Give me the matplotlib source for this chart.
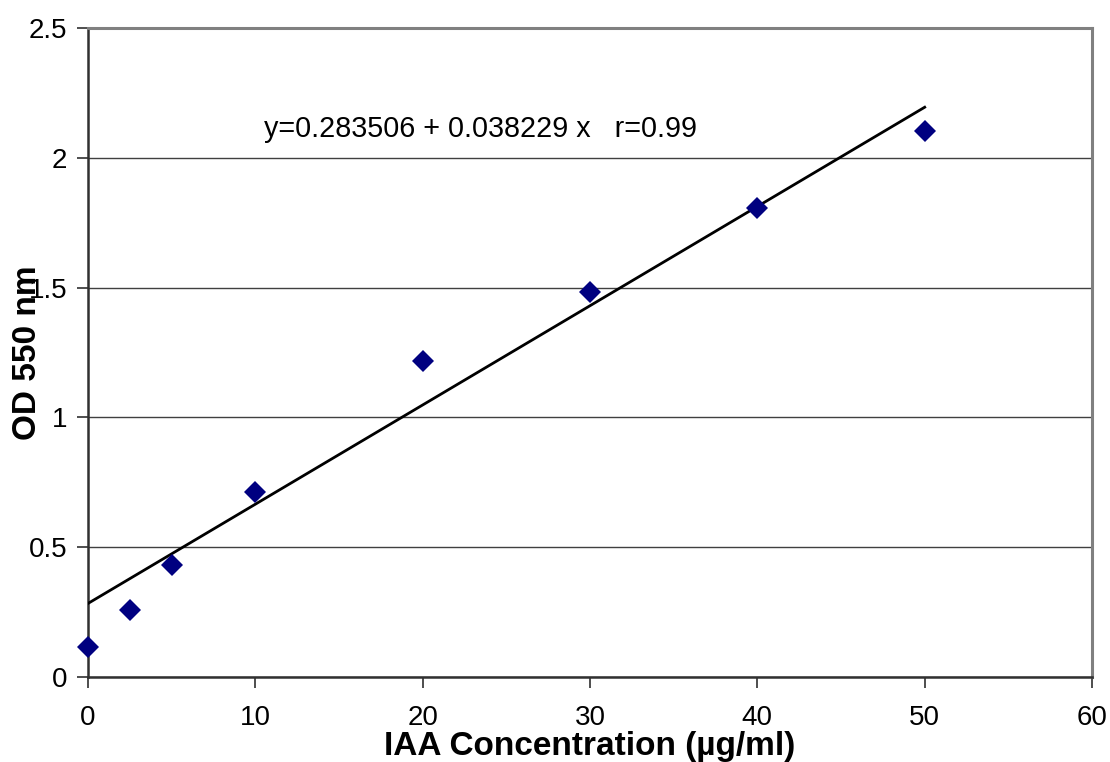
import matplotlib
matplotlib.use('Agg')
import matplotlib.pyplot as plt
import numpy as np

plt.rcParams['font.family'] = ['Liberation Sans', 'DejaVu Sans']

# data
conc = [0, 2.5, 5, 10, 20, 30, 40, 50]
od = [0.115, 0.258, 0.431, 0.713, 1.217, 1.483, 1.807, 2.103]
intercept, slope = 0.283506, 0.038229
xticks = [0, 10, 20, 30, 40, 50, 60]
yticks = [0, 0.5, 1, 1.5, 2, 2.5]
yticklabels = ['0', '0.5', '1', '1.5', '2', '2.5']

fig = plt.figure(figsize=(11.1, 7.62), dpi=100)
ax = fig.add_axes([0.0793, 0.1115, 0.9045, 0.8517])

ax.set_xlim(0, 60)
ax.set_ylim(0, 2.5)
ax.set_xticks(xticks)
ax.set_yticks(yticks)
ax.set_yticklabels(yticklabels)
ax.yaxis.grid(True, color='#404040', lw=1.0)
ax.set_axisbelow(True)

fx = np.array([0, 50])
ax.plot(fx, intercept + slope * fx, color='black', lw=2, zorder=3)
ax.plot(conc, od, 'D', color='#000080', markersize=11, markeredgewidth=0,
        clip_on=False, zorder=4)

ax.text(10.5, 2.11, 'y=0.283506 + 0.038229 x   r=0.99', fontsize=20.7,
        va='center', ha='left')

for s in ['top', 'right']:
    ax.spines[s].set_color('#808080')
    ax.spines[s].set_linewidth(2.2)
for s in ['left', 'bottom']:
    ax.spines[s].set_color('#303030')
    ax.spines[s].set_linewidth(1.8)

ax.tick_params(axis='both', direction='out', length=8, width=1.2,
               color='#303030', labelsize=20)
ax.tick_params(axis='x', pad=12)
ax.tick_params(axis='y', pad=7)

ax.set_xlabel('IAA Concentration (µg/ml)', fontsize=24, fontweight='bold',
              labelpad=0)
ax.set_ylabel('OD 550 nm', fontsize=24, fontweight='bold', labelpad=0)
ax.xaxis.set_label_coords(0.5, -0.083)
ax.yaxis.set_label_coords(-0.045, 0.5)

fig.savefig('out.png', dpi=100)
